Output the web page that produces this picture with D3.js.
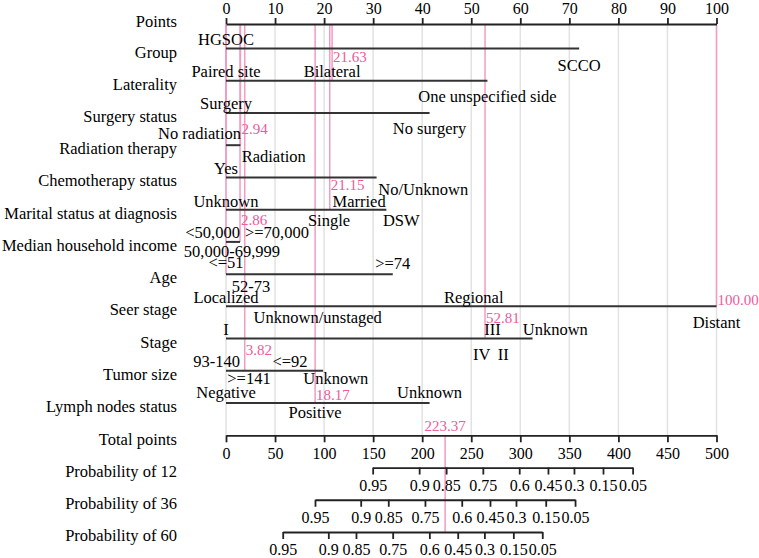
<!DOCTYPE html>
<html><head><meta charset="utf-8">
<script src="https://cdn.jsdelivr.net/npm/d3@7"></script>
<style>
html,body{margin:0;padding:0;background:#fff;}
svg{display:block;}
svg text{font-family:"Liberation Serif",serif;}
</style></head>
<body><svg id="chart" width="759" height="558"></svg>
<script>
// ---------- data ----------
const rowNames = ["Group","Laterality","Surgery status","Radiation therapy","Chemotherapy status",
  "Marital status at diagnosis","Median household income","Age","Seer stage","Stage","Tumor size","Lymph nodes status"];
const groupLevels = ["HGSOC","SCCO"];                     const groupPts = [0, 72];
const lateralityLevels = ["Paired site","Bilateral","One unspecified side"]; const lateralityPts = [0, 21.63, 53.3];
const surgeryLevels = ["Surgery","No surgery"];           const surgeryPts = [0, 41.5];
const radiationLevels = ["No radiation","Radiation"];     const radiationPts = [0, 2.94];
const chemoLevels = ["Yes","No/Unknown"];                 const chemoPts = [0, 30.7];
const maritalLevels = ["Unknown","Single","Married","DSW"]; const maritalPts = [0, 21.15, 27.2, 32.7];
const incomeLevels = ["<50,000",">=70,000","50,000-69,999"]; const incomePts = [0, 2.86, 1.2];
const ageLevels = ["<=51",">=74","52-73"];                const agePts = [0, 34.0, 5.1];
const seerLevels = ["Localized","Regional","Unknown/unstaged","Distant"]; const seerPts = [0, 50.5, 18.7, 100];
const stageLevels = ["I","III","Unknown","IV","II"];      const stagePts = [0, 52.81, 62.5, 52.1, 56.5];
const tumorLevels = ["93-140","<=92",">=141","Unknown"];  const tumorPts = [0, 13.0, 3.82, 19.8];
const lymphLevels = ["Negative","Unknown","Positive"];    const lymphPts = [0, 41.5, 18.17];

const patientPts = [0, 21.63, 0, 2.94, 0, 21.15, 2.86, 0, 100, 52.81, 3.82, 18.17];
const patientLabels = ["", "21.63", "", "2.94", "", "21.15", "2.86", "", "100.00", "52.81", "3.82", "18.17"];
const totalPoints = 223.37;
const totalLabel = "223.37";

const pointTicks = [0,10,20,30,40,50,60,70,80,90,100];
const totalTicks = [0,50,100,150,200,250,300,350,400,450,500];
const probNames = ["Probability of 12","Probability of 36","Probability of 60"];
const probLabels = ["0.95","0.9","0.85","0.75","0.6","0.45","0.3","0.15","0.05"];
const prob12Pts = [149.5,196.9,224.4,261.8,298.9,328.2,354.7,384.3,414.5];
const prob36Pts = [90.7,137.3,165.4,202.8,240.3,269.1,295.6,325.9,355.8];
const prob60Pts = [57.8,104.3,132.5,169.9,207.3,236.2,263.4,292.9,322.4];

// ---------- layout (label placement: [x in points, anchor, dy from line]) ----------
const levelLayout = [
  [[0,"middle",-3.5],[72,"middle",22]],
  [[0,"middle",-3.5],[21.63,"middle",-3.5],[53.3,"middle",21.5]],
  [[0,"middle",-3.5],[41.5,"middle",21]],
  [[3.06,"end",-6],[3.2,"start",16.5]],
  [[0,"middle",-3],[31.05,"start",17.3]],
  [[0,"middle",-3],[21.0,"middle",16.5],[32.56,"end",-3],[32.0,"start",16.5]],
  [[2.85,"end",-3.5],[3.87,"start",-3.5],[1.22,"middle",14.7]],
  [[0,"middle",-6],[34.0,"middle",-5.5],[5.1,"middle",17.7]],
  [[0,"middle",-3.3],[50.5,"middle",-3],[18.7,"middle",17],[100,"middle",22]],
  [[0,"middle",-3.7],[54.33,"middle",-3.7],[60.5,"start",-3.7],[52.13,"middle",21.3],[56.53,"middle",21.3]],
  [[2.85,"end",-4],[13.05,"middle",-4],[4.69,"middle",12.7],[22.39,"middle",12.7]],
  [[0,"middle",-4.7],[41.5,"middle",-4.7],[18.17,"middle",15.3]]
];
const pinkDy = [0,-18.8,0,-11.2,0,-19.7,-17,0,-1.3,-16,-15.7,-3];

const levels = [groupLevels,lateralityLevels,surgeryLevels,radiationLevels,chemoLevels,maritalLevels,
  incomeLevels,ageLevels,seerLevels,stageLevels,tumorLevels,lymphLevels];
const pts = [groupPts,lateralityPts,surgeryPts,radiationPts,chemoPts,maritalPts,
  incomePts,agePts,seerPts,stagePts,tumorPts,lymphPts];

// ---------- drawing ----------
const FONT = "Liberation Serif, serif";
const svg = d3.select("#chart").attr("font-family",FONT);
const x = d3.scaleLinear().domain([0,100]).range([226,716.5]);
const xTot = d3.scaleLinear().domain([0,500]).range([226,716.5]);
const yRow = d3.scaleLinear().domain([0,15]).range([48.5,532]);
const yPoints = 24;
const titleX = 177;
const FS = 16.5, FSN = 16;
const pinkLine = "#f39bc2", pinkText = "#ee5a9b", lineCol = "#333";

// grid
svg.append("g").selectAll("line").data(pointTicks).join("line")
  .attr("x1",d=>x(d)).attr("x2",d=>x(d)).attr("y1",yPoints).attr("y2",yRow(12))
  .attr("stroke","#e2e2e2").attr("stroke-width",1.5);

// pink patient lines
svg.append("g").selectAll("line").data(patientPts).join("line")
  .attr("x1",d=>x(d)).attr("x2",d=>x(d)).attr("y1",yPoints).attr("y2",(d,i)=>yRow(i))
  .attr("stroke",pinkLine).attr("stroke-width",1.5);
svg.append("line").attr("x1",xTot(totalPoints)).attr("x2",xTot(totalPoints))
  .attr("y1",yRow(12)).attr("y2",yRow(15)).attr("stroke",pinkLine).attr("stroke-width",1.5);

// Points axis
const gP = svg.append("g").attr("transform",`translate(0,${yPoints})`)
  .call(d3.axisTop(x).tickValues(pointTicks).tickSize(6).tickSizeOuter(0).tickPadding(4));
// Total points axis
const gT = svg.append("g").attr("transform",`translate(0,${yRow(12)})`)
  .call(d3.axisBottom(xTot).tickValues(totalTicks).tickSize(7).tickSizeOuter(0).tickPadding(5));
// Probability axes
const probPts = [prob12Pts,prob36Pts,prob60Pts];
const probAxes = probPts.map((arr,k)=>{
  const s = d3.scaleLinear().domain([arr[0],arr[arr.length-1]]).range([xTot(arr[0]),xTot(arr[arr.length-1])]);
  return svg.append("g").attr("transform",`translate(0,${yRow(13+k)})`)
    .call(d3.axisBottom(s).tickValues(arr).tickFormat((d,i)=>probLabels[i]).tickSize(7).tickSizeOuter(0).tickPadding(5));
});
[gP,gT,...probAxes].forEach(g=>{
  g.attr("font-family",FONT).attr("font-size",FSN);
  g.select(".domain").attr("stroke","#222").attr("stroke-width",1.8);
  g.selectAll(".tick line").attr("stroke","#222").attr("stroke-width",1.8);
  g.selectAll(".tick text").attr("font-size",FSN).attr("fill","#000").attr("font-family",FONT);
});

// row lines
svg.append("g").selectAll("line").data(pts).join("line")
  .attr("x1",x(0)).attr("x2",d=>x(d3.max(d))).attr("y1",(d,i)=>yRow(i)).attr("y2",(d,i)=>yRow(i))
  .attr("stroke",lineCol).attr("stroke-width",2);

const T = sel => sel.attr("font-family",FONT).attr("font-size",FS).attr("fill","#000");

// row titles
svg.append("text").attr("x",titleX).attr("y",yPoints+2.5).attr("text-anchor","end").call(T).text("Points");
svg.append("g").selectAll("text").data(rowNames).join("text")
  .attr("x",titleX).attr("y",(d,i)=>yRow(i)+9).attr("text-anchor","end").call(T).text(d=>d);
svg.append("text").attr("x",titleX).attr("y",yRow(12)+9.5).attr("text-anchor","end").call(T).text("Total points");
svg.append("g").selectAll("text").data(probNames).join("text")
  .attr("x",titleX).attr("y",(d,i)=>yRow(13+i)+9.3).attr("text-anchor","end").call(T).text(d=>d);

// level labels
levels.forEach((lv,i)=>{
  svg.append("g").selectAll("text").data(lv).join("text")
    .attr("x",(d,j)=>x(levelLayout[i][j][0]))
    .attr("y",(d,j)=>yRow(i)+levelLayout[i][j][2])
    .attr("text-anchor",(d,j)=>levelLayout[i][j][1])
    .call(T).text(d=>d);
});

// pink labels
svg.append("g").selectAll("text").data(patientPts).join("text")
  .attr("x",d=>x(d)+1).attr("y",(d,i)=>yRow(i)+pinkDy[i])
  .attr("font-family",FONT).attr("font-size",15).attr("fill",pinkText).text((d,i)=>patientLabels[i]);
svg.append("text").attr("x",xTot(totalPoints)).attr("y",yRow(12)-4.5).attr("text-anchor","middle")
  .attr("font-family",FONT).attr("font-size",15).attr("fill",pinkText).text(totalLabel);
</script></body></html>
